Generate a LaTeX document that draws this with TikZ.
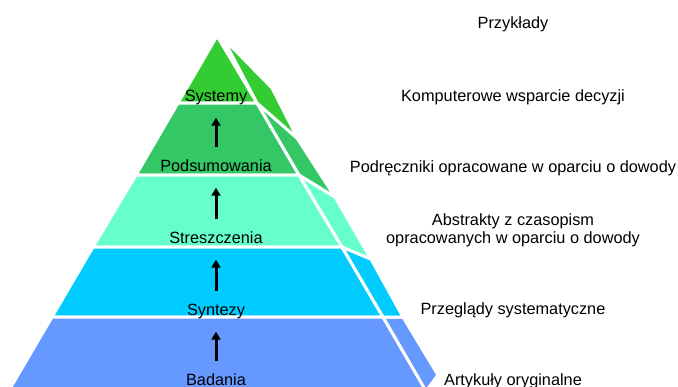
\documentclass[tikz,border=0pt]{standalone}
\usepackage{fontspec}
\setmainfont{Liberation Sans}
\usetikzlibrary{arrows.meta}
\definecolor{cSys}{HTML}{33CC33}
\definecolor{cPod}{HTML}{33C766}
\definecolor{cStr}{HTML}{66FFCC}
\definecolor{cSyn}{HTML}{00CCFF}
\definecolor{cBad}{HTML}{6699FF}
\tikzstyle{arrow} = [-{Triangle[length=8pt,width=9pt]}, line width=3pt, shorten <=12pt, shorten >=13pt]
\tikzstyle{mLayer} = [draw=white, line width=3pt, line join=round]
\tikzstyle{mLabel} = [inner sep=0pt, text height=12pt, text depth=3.5pt, font=\fontsize{16.3pt}{18pt}\selectfont]

\begin{document}
\begin{tikzpicture}[x=1pt,y=-1pt]
        \useasboundingbox (0,0) rectangle (678,386);
        \clip (0,0) rectangle (678,386);

        \filldraw[mLayer, fill=cSys] (217,36) -- (178,103) -- (257,103) -- cycle;
        \filldraw[mLayer, fill=cPod] (178,103) -- (136,175) -- (299,175) -- (257,103) -- cycle;
        \filldraw[mLayer, fill=cStr] (136,175) -- (93,247) -- (342,247) -- (299,175) -- cycle;
        \filldraw[mLayer, fill=cSyn] (93,247) -- (52,317) -- (383,317) -- (342,247) -- cycle;
        \filldraw[mLayer, fill=cBad] (52,317) -- (8,392) -- (427,392) -- (383,317) -- cycle;

        \filldraw[mLayer, fill=cBad] (383,317) -- (403,317) -- (438,375) -- (426,391) -- cycle;
        \filldraw[mLayer, fill=cSyn] (342,247) -- (371,259) -- (403,317) -- (383,317) -- cycle;
        \filldraw[mLayer, fill=cStr] (299,175) -- (335,197) -- (371,259) -- (342,247) -- cycle;
        \filldraw[mLayer, fill=cPod] (257,103) -- (297,138) -- (335,197) -- (299,175) -- cycle;
        \filldraw[mLayer, fill=cSys] (223,38) -- (272,88) -- (298,139) -- (257,103) -- cycle;

        \node[mLabel, anchor=base] (l1) at (216,101) {Systemy};
        \node[mLabel, anchor=base] (l2) at (216,171) {Podsumowania};
        \node[mLabel, anchor=base] (l3) at (216,243) {Streszczenia};
        \node[mLabel, anchor=base] (l4) at (216,315) {Syntezy};
        \node[mLabel, anchor=base] (l5) at (216,385) {Badania};

        \draw[arrow] (l2) -- (l1);
        \draw[arrow] (l3) -- (l2);
        \draw[arrow] (l4) -- (l3);
        \draw[arrow] (l5) -- (l4);

        \node[mLabel, anchor=base] (e0) at (513,28) {Przykłady};
        \node[mLabel, anchor=base] (e1) at (513,101) {Komputerowe wsparcie decyzji};
        \node[mLabel, anchor=base] (e2) at (513,172) {Podręczniki opracowane w oparciu o dowody};
        \node[mLabel, align=center, text height=, text depth=] (e3) at (513,230) {Abstrakty z czasopism\\opracowanych w oparciu o dowody};
        \node[mLabel, anchor=base] (e4) at (513,314) {Przeglądy systematyczne};
        \node[mLabel, anchor=base] (e5) at (513,385) {Artykuły oryginalne};
\end{tikzpicture}
\end{document}
